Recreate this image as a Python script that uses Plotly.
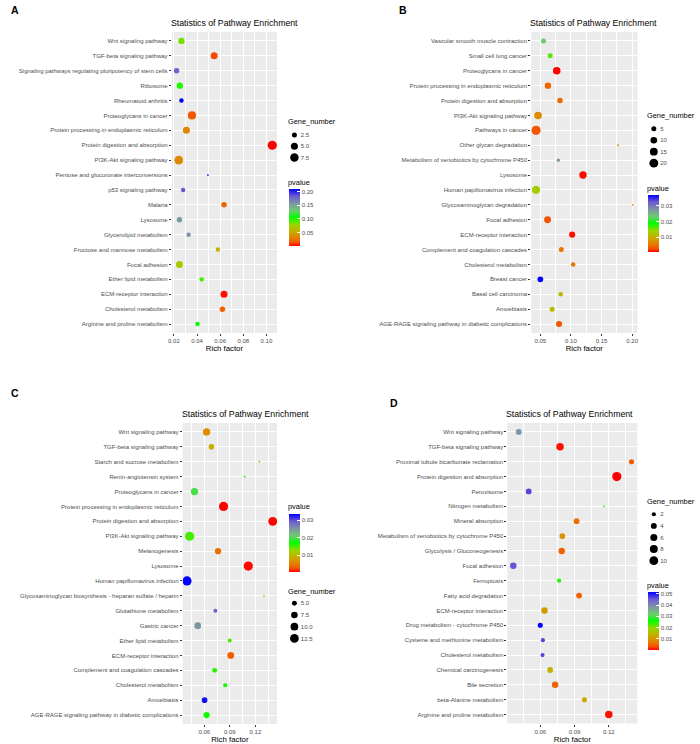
import plotly.graph_objects as go

W, H = 700, 744

# ---------------- panel A ----------------
a_terms = ["Wnt signaling pathway", "TGF-beta signaling pathway",
           "Signaling pathways regulating pluripotency of stem cells", "Ribosome",
           "Rheumatoid arthritis", "Proteoglycans in cancer",
           "Protein processing in endoplasmic reticulum", "Protein digestion and absorption",
           "PI3K-Akt signaling pathway", "Pentose and glucuronate interconversions",
           "p53 signaling pathway", "Malaria", "Lysosome", "Glycerolipid metabolism",
           "Fructose and mannose metabolism", "Focal adhesion", "Ether lipid metabolism",
           "ECM-receptor interaction", "Cholesterol metabolism", "Arginine and proline metabolism"]
a_rich = [0.0265, 0.0548, 0.0223, 0.0251, 0.0265, 0.0356, 0.0308, 0.1050, 0.0242, 0.0494,
          0.0280, 0.0633, 0.0248, 0.0327, 0.0580, 0.0248, 0.0440, 0.0633, 0.0619, 0.0404]
a_genes = [4, 5, 3, 4, 2, 7, 5, 9, 8, 1, 2, 3, 3, 2, 2, 5, 2, 5, 3, 2]
a_pval = [0.085, 0.012, 0.180, 0.100, 0.210, 0.015, 0.035, 0.0005, 0.035, 0.205,
          0.185, 0.020, 0.155, 0.160, 0.055, 0.070, 0.095, 0.003, 0.018, 0.105]
a_xticks = [0.02, 0.04, 0.06, 0.08, 0.10]
a_cbticks = [0.05, 0.10, 0.15, 0.20]
a_size_breaks = [2.5, 5.0, 7.5]
a_size_labels = ["2.5", "5.0", "7.5"]

# ---------------- panel B ----------------
b_terms = ["Vascular smooth muscle contraction", "Small cell lung cancer",
           "Proteoglycans in cancer", "Protein processing in endoplasmic reticulum",
           "Protein digestion and absorption", "PI3K-Akt signaling pathway",
           "Pathways in cancer", "Other glycan degradation",
           "Metabolism of xenobiotics by cytochrome P450", "Lysosome",
           "Human papillomavirus infection", "Glycosaminoglycan degradation",
           "Focal adhesion", "ECM-receptor interaction", "Complement and coagulation cascades",
           "Cholesterol metabolism", "Breast cancer", "Basal cell carcinoma", "Amoebiasis",
           "AGE-RAGE signaling pathway in diabetic complications"]
b_rich = [0.0553, 0.0661, 0.0768, 0.0624, 0.0822, 0.0463, 0.0430, 0.1770, 0.0795, 0.1197,
          0.0430, 0.2007, 0.0618, 0.1020, 0.0843, 0.1036, 0.0500, 0.0833, 0.0693, 0.0806]
b_genes = [5, 5, 14, 9, 6, 14, 22, 1, 2, 13, 17, 1, 11, 8, 5, 4, 7, 4, 5, 8]
b_pval = [0.023, 0.016, 0.0005, 0.004, 0.004, 0.007, 0.003, 0.006, 0.027, 0.0008,
          0.013, 0.006, 0.003, 0.001, 0.005, 0.005, 0.037, 0.011, 0.011, 0.003]
b_xticks = [0.05, 0.10, 0.15, 0.20]
b_cbticks = [0.01, 0.02, 0.03]
b_size_breaks = [5, 10, 15, 20]
b_size_labels = ["5", "10", "15", "20"]

# ---------------- panel C ----------------
c_terms = ["Wnt signaling pathway", "TGF-beta signaling pathway",
           "Starch and sucrose metabolism", "Renin-angiotensin system",
           "Proteoglycans in cancer", "Protein processing in endoplasmic reticulum",
           "Protein digestion and absorption", "PI3K-Akt signaling pathway", "Melanogenesis",
           "Lysosome", "Human papillomavirus infection",
           "Glycosaminoglycan biosynthesis - heparan sulfate / heparin",
           "Glutathione metabolism", "Gastric cancer", "Ether lipid metabolism",
           "ECM-receptor interaction", "Complement and coagulation cascades",
           "Cholesterol metabolism", "Amoebiasis",
           "AGE-RAGE signaling pathway in diabetic complications"]
c_rich = [0.0627, 0.0684, 0.1246, 0.1074, 0.0485, 0.0826, 0.1403, 0.0428, 0.0761, 0.1116,
          0.0397, 0.1300, 0.0730, 0.0523, 0.0898, 0.0910, 0.0722, 0.0845, 0.0603, 0.0627]
c_genes = [9, 6, 3, 3, 9, 14, 13, 14, 7, 14, 14, 3, 4, 8, 4, 8, 5, 4, 6, 7]
c_pval = [0.006, 0.009, 0.013, 0.016, 0.0195, 0.0003, 0.0004, 0.015, 0.004, 0.0005,
          0.0336, 0.013, 0.029, 0.025, 0.015, 0.003, 0.016, 0.0165, 0.033, 0.0165]
c_xticks = [0.06, 0.09, 0.12]
c_cbticks = [0.01, 0.02, 0.03]
c_size_breaks = [5.0, 7.5, 10.0, 12.5]
c_size_labels = ["5.0", "7.5", "10.0", "12.5"]

# ---------------- panel D ----------------
d_terms = ["Wnt signaling pathway", "TGF-beta signaling pathway",
           "Proximal tubule bicarbonate reclamation", "Protein digestion and absorption",
           "Peroxisome", "Nitrogen metabolism", "Mineral absorption",
           "Metabolism of xenobiotics by cytochrome P450", "Glycolysis / Gluconeogenesis",
           "Focal adhesion", "Ferroptosis", "Fatty acid degradation",
           "ECM-receptor interaction", "Drug metabolism - cytochrome P450",
           "Cysteine and methionine metabolism", "Cholesterol metabolism",
           "Chemical carcinogenesis", "Bile secretion", "beta-Alanine metabolism",
           "Arginine and proline metabolism"]
d_rich = [0.0412, 0.0773, 0.1399, 0.1270, 0.0499, 0.1157, 0.0918, 0.0793, 0.0788, 0.0364,
          0.0765, 0.0940, 0.0637, 0.0600, 0.0623, 0.0620, 0.0687, 0.0730, 0.0987, 0.1200]
d_genes = [4, 7, 3, 11, 4, 1, 4, 4, 5, 5, 2, 4, 5, 3, 2, 2, 4, 5, 3, 7]
d_pval = [0.039, 0.001, 0.004, 0.0003, 0.047, 0.026, 0.006, 0.010, 0.005, 0.046,
          0.025, 0.005, 0.011, 0.052, 0.047, 0.047, 0.014, 0.005, 0.013, 0.001]
d_xticks = [0.06, 0.09, 0.12]
d_cbticks = [0.01, 0.02, 0.03, 0.04, 0.05]
d_size_breaks = [2, 4, 6, 8, 10]
d_size_labels = ["2", "4", "6", "8", "10"]

# red -> green -> blue, interpolated in Lab like ggplot
pal = [[0.0, "#FF0000"], [0.0625, "#F45300"], [0.125, "#E87700"], [0.25, "#C9AB00"],
       [0.375, "#98D700"], [0.5, "#00FF00"], [0.625, "#6FC972"], [0.75, "#7D93A6"],
       [0.875, "#6D5BD3"], [1.0, "#0000FF"]]

FONT = "Liberation Sans, Arial, sans-serif"
GREY30 = "#4D4D4D"
TICK = 6.0

# layout in pixels: plot box (l, t, r, b), legend positions
panels = [
    dict(letter="A", terms=a_terms, rich=a_rich, genes=a_genes, pval=a_pval,
         xticks=a_xticks, cbticks=a_cbticks, breaks=a_size_breaks, blabels=a_size_labels,
         box=(169, 32, 275, 333), lab=(5, 10), title_y=23, lx=287,
         gtitle=122, grow=(135, 11.2), ptitle=182, cbar=(189, 246)),
    dict(letter="B", terms=b_terms, rich=b_rich, genes=b_genes, pval=b_pval,
         xticks=b_xticks, cbticks=b_cbticks, breaks=b_size_breaks, blabels=b_size_labels,
         box=(531, 32, 638, 333), lab=(396, 10), title_y=23, lx=649,
         gtitle=116, grow=(128.7, 11.5), ptitle=188, cbar=(195, 252)),
    dict(letter="C", terms=c_terms, rich=c_rich, genes=c_genes, pval=c_pval,
         xticks=c_xticks, cbticks=c_cbticks, breaks=c_size_breaks, blabels=c_size_labels,
         box=(180, 423, 275, 724), lab=(5, 393), title_y=414, lx=287,
         gtitle=591, grow=(603.3, 11.7), ptitle=507, cbar=(514, 572)),
    dict(letter="D", terms=d_terms, rich=d_rich, genes=d_genes, pval=d_pval,
         xticks=d_xticks, cbticks=d_cbticks, breaks=d_size_breaks, blabels=d_size_labels,
         box=(507, 423, 638, 723.5), lab=(387, 403), title_y=414, lx=649,
         gtitle=502, grow=(514.3, 11.6), ptitle=585, cbar=(591.7, 649.3)),
]


def px(x):
    return x / W


def py(y):
    return 1 - y / H


def diam(g, gmin, gmax):
    # area-like size scale (ggplot scale_size)
    return 1.8 + 7.4 * ((g - gmin) / (gmax - gmin)) ** 0.5


fig = go.Figure()
layout = dict(width=W, height=H, margin=dict(l=0, r=0, t=0, b=0),
              paper_bgcolor="white", plot_bgcolor="rgba(0,0,0,0)",
              font=dict(family=FONT, color=GREY30), showlegend=False,
              annotations=[], shapes=[])

for i, p in enumerate(panels):
    k = i + 1
    kl = i + 5
    xs = "x" if k == 1 else f"x{k}"
    ys = "y" if k == 1 else f"y{k}"
    ca = "coloraxis" if k == 1 else f"coloraxis{k}"
    l, t, r, b = p["box"]
    gmin, gmax = min(p["genes"]), max(p["genes"])
    n = len(p["terms"])

    fig.add_trace(go.Scatter(
        x=p["rich"], y=p["terms"], mode="markers", xaxis=xs, yaxis=ys,
        marker=dict(size=[diam(g, gmin, gmax) for g in p["genes"]],
                    color=p["pval"], coloraxis=ca, line=dict(width=0), opacity=1),
    ))

    lo, hi = min(p["rich"]), max(p["rich"])
    pad = 0.05 * (hi - lo)
    step = p["xticks"][1] - p["xticks"][0]
    minor_vals = [v - step / 2 for v in p["xticks"]] + [p["xticks"][-1] + step / 2]

    layout[f"xaxis{k}"] = dict(
        domain=[px(l), px(r)], anchor=ys, range=[lo - pad, hi + pad],
        tickmode="array", tickvals=p["xticks"], tickformat=".2f",
        ticks="outside", ticklen=2, tickwidth=0.6, tickcolor="#333333",
        tickfont=dict(size=TICK, color=GREY30, family=FONT),
        showgrid=True, gridcolor="white", gridwidth=0.9, zeroline=False, showline=False,
        minor=dict(tickmode="array", tickvals=minor_vals, showgrid=True,
                   gridcolor="white", gridwidth=0.45, ticks=""),
        title=dict(text="Rich factor", font=dict(size=7.8, color="black", family=FONT),
                   standoff=1),
    )
    layout[f"yaxis{k}"] = dict(
        domain=[py(b), py(t)], anchor=xs, type="category",
        categoryorder="array", categoryarray=p["terms"], range=[n - 0.4, -0.6],
        ticks="outside", ticklen=2, tickwidth=0.6, tickcolor="#333333",
        tickfont=dict(size=TICK, color=GREY30, family=FONT),
        showgrid=True, gridcolor="white", gridwidth=0.9, zeroline=False, showline=False,
    )
    layout["shapes"].append(dict(type="rect", xref=f"{xs} domain", yref=f"{ys} domain",
                                 x0=0, x1=1, y0=0, y1=1, fillcolor="#EBEBEB",
                                 line=dict(width=0), layer="below"))

    cb_top, cb_bot = p["cbar"]
    layout[ca] = dict(
        colorscale=pal, cmin=min(p["pval"]), cmax=max(p["pval"]),
        colorbar=dict(x=px(p["lx"]), xanchor="left", y=py(cb_top), yanchor="top",
                      len=cb_bot - cb_top, lenmode="pixels", thickness=11,
                      thicknessmode="pixels", xpad=0, ypad=0, outlinewidth=0,
                      borderwidth=0, tickmode="array", tickvals=p["cbticks"],
                      tickformat=".2f", ticks="inside", ticklen=2.5, tickwidth=0.6,
                      tickcolor="white",
                      tickfont=dict(size=TICK, color=GREY30, family=FONT)),
    )

    # size legend drawn as a small axis
    first, sp = p["grow"]
    nb = len(p["breaks"])
    fig.add_trace(go.Scatter(
        x=[0] * nb, y=p["blabels"], mode="markers", xaxis=f"x{kl}", yaxis=f"y{kl}",
        marker=dict(size=[diam(v, gmin, gmax) for v in p["breaks"]], color="black",
                    opacity=1, line=dict(width=0)),
        hoverinfo="skip",
    ))
    layout[f"xaxis{kl}"] = dict(domain=[px(p["lx"]), px(p["lx"] + 11)], range=[-1, 1],
                                anchor=f"y{kl}", visible=False, fixedrange=True)
    layout[f"yaxis{kl}"] = dict(
        domain=[py(first + sp * (nb - 0.5)), py(first - sp / 2)], anchor=f"x{kl}",
        type="category", categoryorder="array", categoryarray=p["blabels"],
        range=[nb - 0.5, -0.5], side="right", showgrid=False, zeroline=False,
        showline=False, ticks="", tickfont=dict(size=TICK, color=GREY30, family=FONT),
        fixedrange=True,
    )

    ann = layout["annotations"]
    ann.append(dict(text=f"<b>{p['letter']}</b>", x=px(p["lab"][0]), y=py(p["lab"][1]),
                    xref="paper", yref="paper", xanchor="left", yanchor="middle",
                    showarrow=False, font=dict(size=10.5, color="black", family=FONT)))
    ann.append(dict(text="Statistics of Pathway Enrichment", x=px(l), y=py(p["title_y"]),
                    xref="paper", yref="paper", xanchor="left", yanchor="middle", xshift=-3,
                    showarrow=False, font=dict(size=8.7, color="black", family=FONT)))
    ann.append(dict(text="Gene_number", x=px(p["lx"]), y=py(p["gtitle"]),
                    xref="paper", yref="paper", xanchor="left", yanchor="middle", xshift=-3,
                    showarrow=False, font=dict(size=7.4, color="black", family=FONT)))
    ann.append(dict(text="pvalue", x=px(p["lx"]), y=py(p["ptitle"]),
                    xref="paper", yref="paper", xanchor="left", yanchor="middle", xshift=-3,
                    showarrow=False, font=dict(size=7.4, color="black", family=FONT)))

layout["xaxis"] = layout.pop("xaxis1")
layout["yaxis"] = layout.pop("yaxis1")
fig.update_layout(**layout)
fig.write_html("out.html", config={"displayModeBar": False},
               post_script="document.body.style.margin='0';"
                           "document.body.style.overflow='hidden';")
